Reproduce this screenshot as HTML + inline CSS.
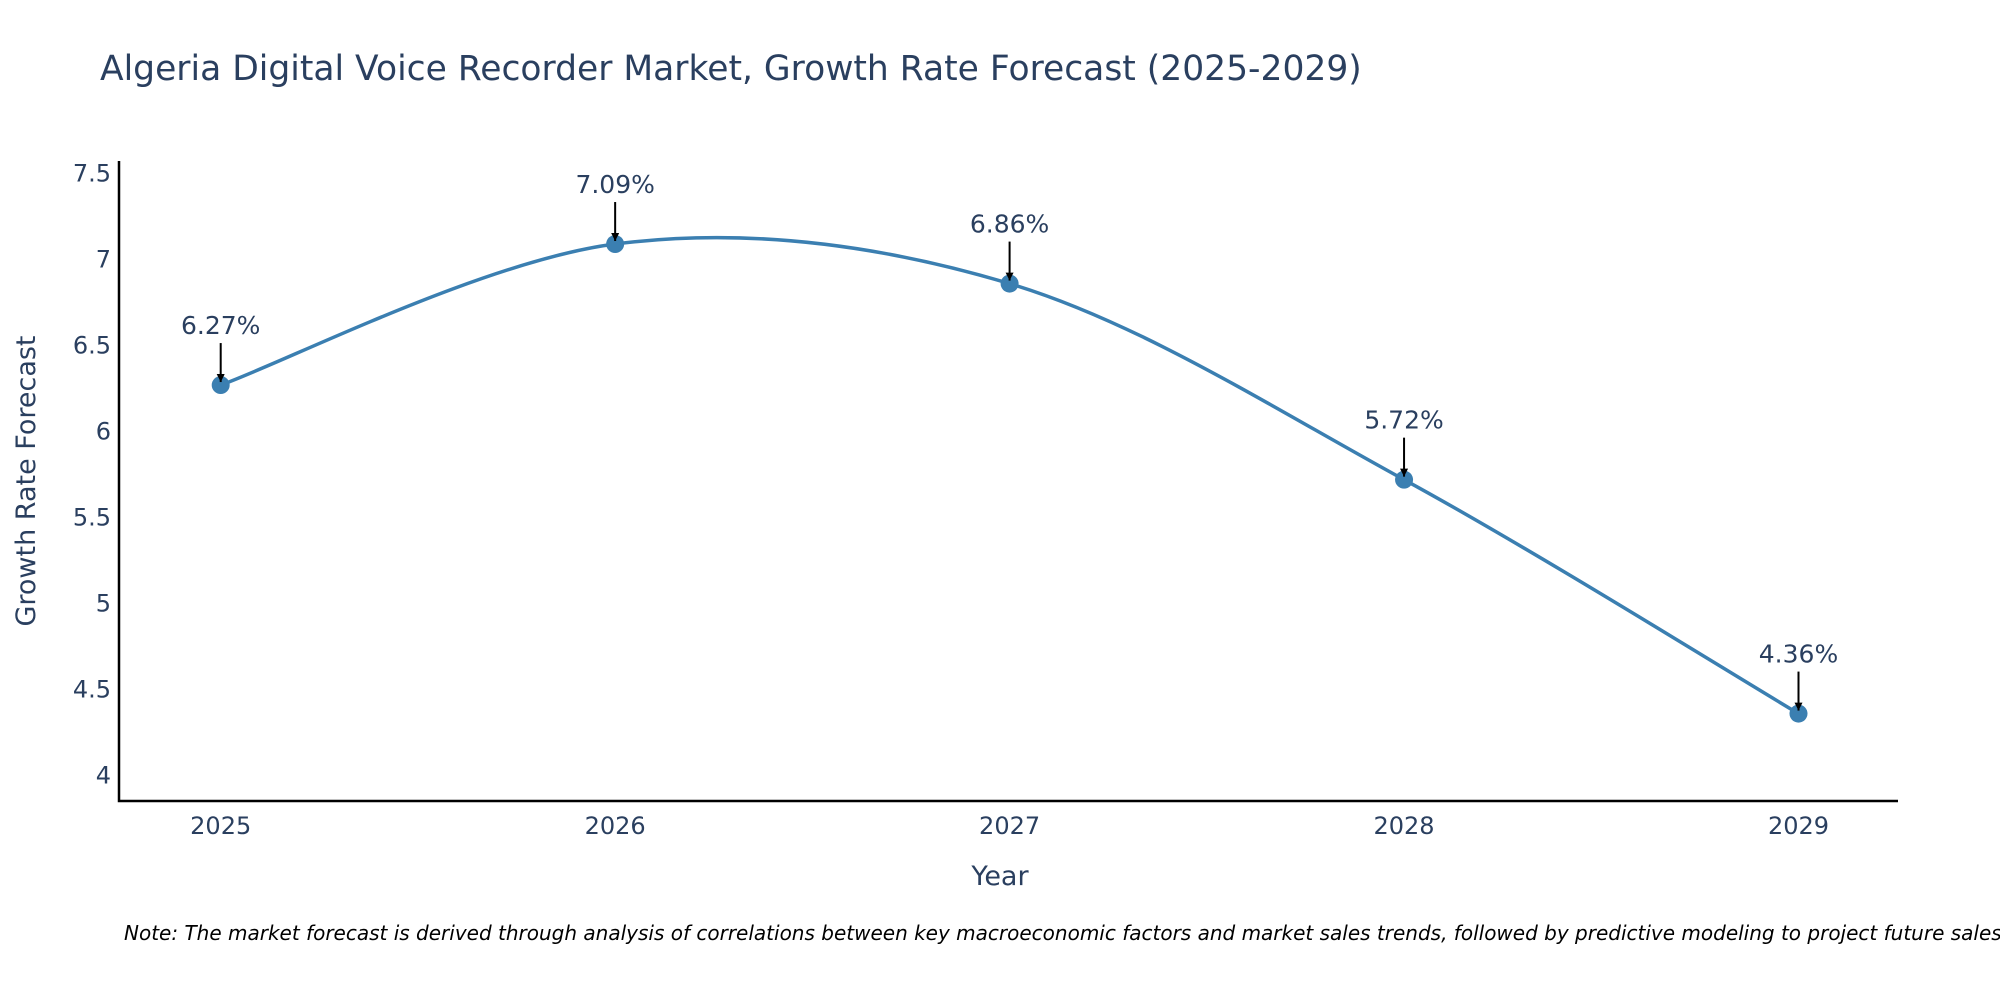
<!DOCTYPE html>
<html><head><meta charset="utf-8"><style>
html,body{margin:0;padding:0;background:#fff;overflow:hidden;}
svg text{font-family:"DejaVu Sans","Liberation Sans",sans-serif;fill:#2a3f5f;}
</style></head><body>
<svg width="2000" height="1000" xmlns="http://www.w3.org/2000/svg">
<defs><marker id="ah" viewBox="0 0 10 10" refX="10" refY="5" markerWidth="8" markerHeight="8" markerUnits="userSpaceOnUse" orient="auto"><path d="M0,0 L10,5 L0,10 z" fill="#000"/></marker></defs>
<text x="100" y="80" font-size="34.5">Algeria Digital Voice Recorder Market, Growth Rate Forecast (2025-2029)</text>
<g id="plot"></g>
<text x="1000" y="885" font-size="27" text-anchor="middle">Year</text>
<text transform="translate(35,481) rotate(-90)" font-size="27" text-anchor="middle">Growth Rate Forecast</text>
<text x="124" y="940" font-size="20" font-style="italic" style="fill:#000">Note: The market forecast is derived through analysis of correlations between key macroeconomic factors and market sales trends, followed by predictive modeling to project future sales.</text>
</svg>
<script>
const years=[2025,2026,2027,2028,2029];
const values=[6.27,7.09,6.86,5.72,4.36];
const yTicks=[4,4.5,5,5.5,6,6.5,7,7.5];
const labels=["6.27%","7.09%","6.86%","5.72%","4.36%"];
const NS="http://www.w3.org/2000/svg";
const g=document.getElementById('plot');
const X=v=>220.7+(v-2025)*(1798.5-220.7)/4;
const Y=v=>775.5-(v-4)*(775.5-173.5)/3.5;
function mk(t,a,p){const e=document.createElementNS(NS,t);for(const k in a)e.setAttribute(k,a[k]);(p||g).appendChild(e);return e;}
let ax=mk('path',{d:'M119,161 V801 H1898',stroke:'#000','stroke-width':2.5,fill:'none'});


yTicks.forEach(v=>{const t=mk('text',{x:111,y:Y(v)+8,'font-size':24,'text-anchor':'end'});t.textContent=String(v);

});
years.forEach(v=>{const t=mk('text',{x:X(v),y:834,'font-size':24,'text-anchor':'middle'});t.textContent=String(v);

});
const P=years.map((y,i)=>[X(y),Y(values[i])]);
let d='M'+P[0][0]+','+P[0][1];
const s=0.33;
for(let i=0;i<P.length-1;i++){const p0=P[Math.max(0,i-1)],p1=P[i],p2=P[i+1],p3=P[Math.min(P.length-1,i+2)];
const c1=[p1[0]+(p2[0]-p0[0])*s/2,p1[1]+(p2[1]-p0[1])*s/2];
const c2=[p2[0]-(p3[0]-p1[0])*s/2,p2[1]-(p3[1]-p1[1])*s/2];
d+=' C'+c1+' '+c2+' '+p2;}
let ln=mk('path',{d:d,stroke:'#3b7fb1','stroke-width':3.5,fill:'none'});


P.forEach((p,i)=>{const c=mk('circle',{cx:p[0],cy:p[1],r:9,fill:'#3b7fb1'});


const a=mk('line',{x1:p[0],y1:p[1]-42,x2:p[0],y2:p[1]-3,stroke:'#000','stroke-width':2,'marker-end':'url(#ah)'});


const t=mk('text',{x:p[0],y:p[1]-51,'font-size':25,'text-anchor':'middle'});t.textContent=labels[i];

});
</script>
</body></html>
